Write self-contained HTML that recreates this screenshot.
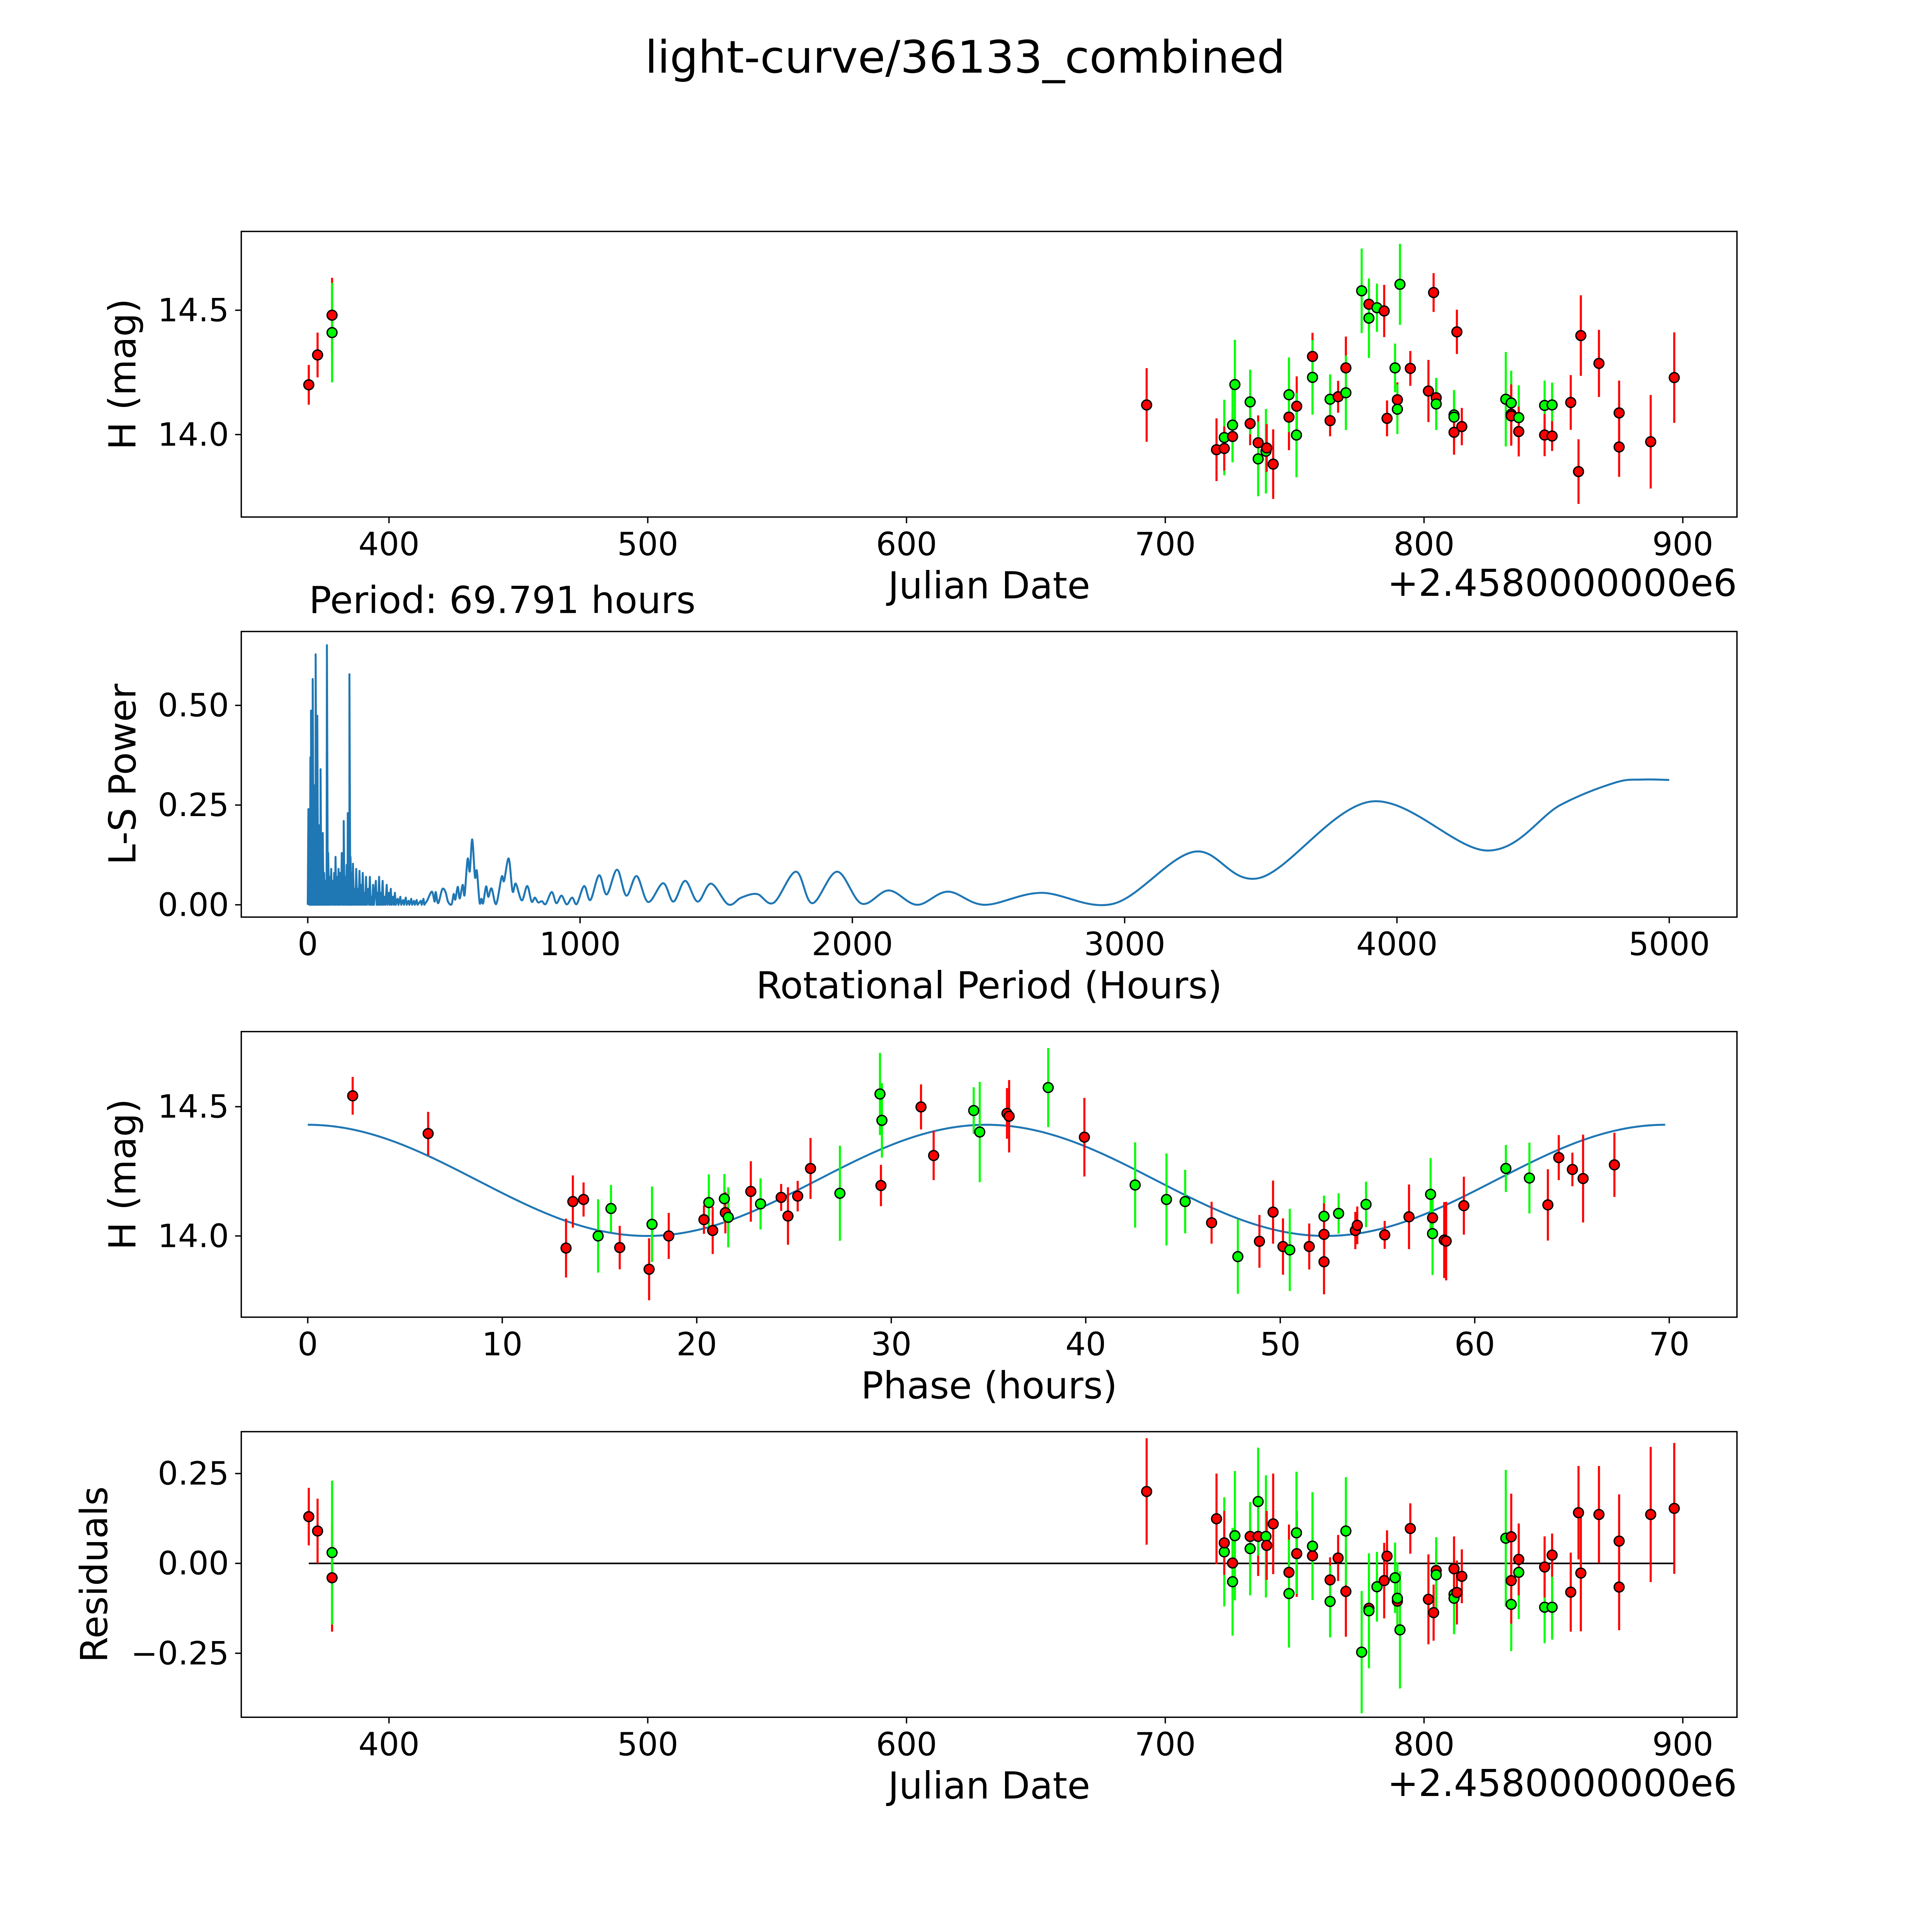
<!DOCTYPE html>
<html><head><meta charset="utf-8"><title>light-curve/36133_combined</title>
<style>html,body{margin:0;padding:0;background:#fff;overflow:hidden}svg{display:block}text{font-family:"DejaVu Sans","Liberation Sans",sans-serif;fill:#000}</style>
</head><body>
<svg id="fig" xmlns="http://www.w3.org/2000/svg" width="5400" height="5400" viewBox="0 0 1695 1695">
<rect x="0" y="0" width="1695" height="1695" fill="#fff"/>
<text x="784" y="59" font-size="36.3" text-anchor="middle">light-curve/36133_combined</text>
</svg>
<script>
// ---- light curve data (Julian date offset, H mag) ----
const lcJd = [369,372.4,378,378,692.8,719.8,722.8,722.8,726,726,726.9,732.8,732.8,735.9,735.9,738.9,739.2,741.7,747.8,747.8,750.8,750.7,756.9,756.9,763.7,763.7,766.8,769.8,769.8,775.9,778.7,778.7,781.8,784.6,785.7,788.8,789.7,789.7,790.7,794.7,801.7,803.7,804.7,804.7,811.6,811.6,811.6,812.7,814.6,831.6,833.7,833.7,833.7,836.6,836.6,846.6,846.6,849.5,849.5,856.7,859.7,860.6,867.6,875.4,875.4,887.6,896.7];
const lcMag = [14.2,14.32,14.48,14.41,14.119,13.939,13.988,13.944,13.992,14.038,14.201,14.044,14.131,13.967,13.902,13.933,13.946,13.881,14.07,14.16,14.114,13.998,14.314,14.23,14.056,14.142,14.152,14.268,14.168,14.578,14.524,14.468,14.51,14.497,14.065,14.268,14.14,14.102,14.604,14.266,14.175,14.571,14.148,14.123,14.079,14.07,14.009,14.413,14.032,14.142,14.127,14.082,14.075,14.068,14.012,14.117,13.998,14.119,13.994,14.129,13.851,14.398,14.286,14.087,13.95,13.971,14.229];
const lcErr = [0.08,0.09,0.15,0.2,0.148,0.126,0.152,0.089,0.096,0.15,0.18,0.087,0.13,0.11,0.15,0.17,0.096,0.14,0.133,0.15,0.12,0.17,0.095,0.15,0.063,0.1,0.064,0.126,0.15,0.17,0.095,0.16,0.097,0.105,0.072,0.098,0.07,0.1,0.163,0.07,0.125,0.078,0.06,0.105,0.1,0.1,0.09,0.089,0.075,0.19,0.13,0.12,0.12,0.13,0.1,0.1,0.085,0.09,0.06,0.11,0.13,0.162,0.135,0.13,0.12,0.188,0.182];
const lcColor = ("rrrgrrgrrg"+"grgrggrrrg"+"rgrgrgrrgg"+"rggrrgrggr"+"rrrgggrrrg"+"grrgrgrgrr"+"rrrrrrr").split("");
// ---- residuals (same observations) ----
const resVal = [0.13,0.09,-0.04,0.03,0.2,0.124,0.032,0.057,0.001,-0.051,0.077,0.075,0.041,0.075,0.172,0.075,0.05,0.11,-0.025,-0.084,0.027,0.085,0.021,0.048,-0.046,-0.106,0.015,-0.078,0.09,-0.247,-0.125,-0.132,-0.065,-0.048,0.02,-0.04,-0.105,-0.097,-0.185,0.097,-0.1,-0.137,-0.02,-0.032,-0.086,-0.097,-0.015,-0.081,-0.036,0.07,-0.114,0.074,-0.048,-0.025,0.011,-0.122,-0.01,-0.122,0.023,-0.08,0.141,-0.027,0.136,0.062,-0.066,0.136,0.153];
// ---- phased data ----
const phPhase = [2.31,6.19,13.28,13.63,14.18,14.93,15.59,16.04,17.55,17.7,18.56,20.37,20.62,20.82,21.42,21.47,21.62,22.78,23.28,24.34,24.69,25.19,25.85,27.36,29.42,29.52,29.47,31.53,32.18,34.24,34.55,35.95,36.06,38.07,39.93,42.54,44.15,45.11,46.47,47.82,48.93,49.63,50.14,50.49,51.49,52.25,52.25,52.25,53.0,53.86,53.96,54.41,55.37,56.62,57.73,57.83,57.83,58.43,58.53,59.44,61.6,62.81,63.76,64.32,65.02,65.57,67.18];
const phMag = [14.542,14.396,13.953,14.133,14.141,14.0,14.106,13.955,13.871,14.045,14.0,14.063,14.129,14.021,14.144,14.09,14.072,14.172,14.124,14.149,14.077,14.154,14.261,14.165,14.549,14.447,14.195,14.499,14.311,14.485,14.402,14.474,14.463,14.574,14.382,14.197,14.141,14.133,14.051,13.92,13.979,14.092,13.959,13.946,13.959,14.076,14.006,13.9,14.087,14.021,14.041,14.122,14.004,14.074,14.161,14.07,14.009,13.984,13.98,14.117,14.261,14.224,14.12,14.303,14.257,14.222,14.275];
const phErr = [0.073,0.084,0.114,0.101,0.066,0.142,0.091,0.084,0.12,0.146,0.089,0.055,0.109,0.091,0.095,0.08,0.116,0.117,0.099,0.052,0.111,0.059,0.118,0.184,0.159,0.144,0.08,0.087,0.095,0.09,0.194,0.098,0.14,0.153,0.152,0.165,0.178,0.123,0.081,0.144,0.102,0.122,0.109,0.159,0.089,0.08,0.12,0.126,0.078,0.072,0.073,0.088,0.054,0.125,0.14,0.08,0.16,0.147,0.152,0.112,0.091,0.137,0.138,0.087,0.065,0.17,0.124];
const phColor = ("rrrrrggrrg"+"rrgrgrgrgr"+"rrrgggrrrg"+"grrgrgggrg"+"rrrgrgrrgr"+"rgrrgrgrrr"+"ggrrrrr").split("");
const periodHours = 69.791;
const modelMean = 14.215, modelAmp = 0.215;
// ---- periodogram ----
const spikePeriod = [2.4,5,9.7,12,15,18.2,22,26,29,32,35,40,44,47,52,55,60,66,70.4,75,80,86,92,97,102,108,113,119,125,129,132,138,143,147,150,153,157,162,166,172,178,184,190,196,202,208,214,222,228,234,240,250,256,262,268,275,282,290,298,305,313,320,330,340,350,360,370,380,390,400,415,425];
const spikePower = [0.24,0.2,0.37,0.487,0.3,0.566,0.25,0.3,0.628,0.2,0.474,0.2,0.15,0.34,0.1,0.18,0.08,0.06,0.651,0.13,0.07,0.09,0.06,0.08,0.12,0.07,0.09,0.08,0.13,0.08,0.21,0.07,0.1,0.23,0.15,0.578,0.12,0.08,0.103,0.04,0.09,0.04,0.085,0.05,0.08,0.03,0.07,0.04,0.07,0.02,0.05,0.06,0.03,0.07,0.03,0.06,0.02,0.05,0.03,0.04,0.02,0.03,0.015,0.02,0.012,0.018,0.01,0.015,0.01,0.012,0.01,0.015];
const smoothPeriod = [439,456,466,470,479,494,506,515,528,536,542,551,558,569,576,587,595,604,614,621,631,638,644,655,663,675,692,712,721,738,752,764,786,806,822,834,846,860,874,896,913,932,951,971,988,1015,1038,1070,1098,1136,1170,1208,1250,1305,1343,1386,1432,1481,1544,1592,1650,1711,1793,1853,1944,2034,2134,2238,2351,2486,2694,2961,3255,3499,3906,4331,4600,4800,4900,5000];
const smoothPower = [0.011,0.033,0.008,0.032,0.004,0.039,0.032,0.008,0.001,0.027,0.013,0.045,0.016,0.05,0.025,0.115,0.084,0.164,0.07,0.085,0.006,0.015,0.004,0.046,0.02,0.041,0.002,0.07,0.06,0.116,0.034,0.053,0.011,0.047,0.008,0.018,0.006,0.009,0.002,0.032,0.004,0.023,0.001,0.018,0.002,0.047,0.012,0.074,0.026,0.088,0.023,0.072,0.007,0.054,0.008,0.06,0.008,0.053,0.001,0.018,0.027,0.005,0.083,0.004,0.083,0.003,0.036,0.0,0.033,0.0,0.03,0.003,0.133,0.068,0.259,0.136,0.25,0.306,0.314,0.313];
// ---- tick labels ----
const jdTicks = [400,500,600,700,800,900];
const lsXTicks = [0,1000,2000,3000,4000,5000];
const lsYTicks = [0,0.25,0.5];
const lsYLabels = ["0.00","0.25","0.50"];
const phXTicks = [0,10,20,30,40,50,60,70];
const magTicks = [14.0,14.5];
const magLabels = ["14.0","14.5"];
const resTicks = [-0.25,0,0.25];
const resLabels = ["\u22120.25","0.00","0.25"];

const NS = "http://www.w3.org/2000/svg";
const svg = document.getElementById("fig");
function mk(tag, attrs, parent){const e=document.createElementNS(NS,tag);for(const k in attrs)e.setAttribute(k,attrs[k]);(parent||svg).appendChild(e);return e;}
function lin(d0,d1,p0,p1){return v=>p0+(v-d0)*(p1-p0)/(d1-d0);}
const COL = {r:"#ff0000", g:"#00ff00"};

function makePanel(name, top, xs, ys){
  const g = mk("g",{});
  
  
  return {g, top, bottom: top+232, left:196, right:1411, x:xs, y:ys};
}
function frame(p){
  const r = mk("rect",{x:p.left,y:p.top,width:p.right-p.left,height:p.bottom-p.top,fill:"none",stroke:"#000","stroke-width":1.1},p.g);
  
  
}
function xTicks(p, vals, labels){
  vals.forEach((v,i)=>{
    const X=p.x(v);
    const t=mk("line",{x1:X,x2:X,y1:p.bottom,y2:p.bottom+5,stroke:"#000","stroke-width":1.1},p.g);
    
    
    const l=mk("text",{x:X,y:p.bottom+31,"font-size":26,"text-anchor":"middle"},p.g);
    l.textContent = labels ? labels[i] : String(v);
    
    
  });
}
function yTicks(p, vals, labels){
  vals.forEach((v,i)=>{
    const Y=p.y(v);
    const t=mk("line",{x1:p.left-5,x2:p.left,y1:Y,y2:Y,stroke:"#000","stroke-width":1.1},p.g);
    
    
    const l=mk("text",{x:p.left-10,y:Y+9,"font-size":26,"text-anchor":"end"},p.g);
    l.textContent = labels[i];
    
    
  });
}
function label(p, txt, x, y, rot, name, anchor){
  const l=mk("text",{x:x,y:y,"font-size":30.2,"text-anchor":anchor||"middle"},p.g);
  if(rot) l.setAttribute("transform","rotate(-90 "+x+" "+y+")");
  l.textContent=txt;
  
  
}
function errPoints(p, xs, ys, es, cs, nameBar, namePt){
  const n=Math.min(xs.length,ys.length,es.length,cs.length);
  for(let i=0;i<n;i++){
    const X=p.x(xs[i]);
    const b=mk("line",{x1:X,x2:X,y1:p.y(ys[i]+es[i]),y2:p.y(ys[i]-es[i]),stroke:COL[cs[i]],"stroke-width":1.7},p.g);
    
    
  }
  for(let i=0;i<n;i++){
    const c=mk("circle",{cx:p.x(xs[i]),cy:p.y(ys[i]),r:4,fill:COL[cs[i]],stroke:"#000","stroke-width":1.1},p.g);
    
    
  }
}

// Panel 1: light curve
const jdX = lin(400,900,316,1367);
const p1 = makePanel("light-curve-panel",188, jdX, lin(14.0,14.5,353,252));
errPoints(p1, lcJd, lcMag, lcErr, lcColor, "mag-error-bar", "mag-point");
frame(p1); xTicks(p1, jdTicks); yTicks(p1, magTicks, magLabels);
label(p1,"Julian Date",803.5,486,false,"x-axis-title");
label(p1,"+2.4580000000e6",1411,484,false,"x-axis-offset","end");
label(p1,"H (mag)",110,304,true,"y-axis-title");

// Panel 2: periodogram
const p2 = makePanel("periodogram-panel",513, lin(0,5000,250,1356), lin(0,0.5,735,573));
(function(){
  let d="M"+p2.x(0)+","+p2.y(0);
  for(let i=0;i<spikePeriod.length;i++){
    d+=" L"+p2.x(spikePeriod[i])+","+p2.y(spikePower[i]);
    d+=" L"+(p2.x(spikePeriod[i])+0.7)+","+p2.y(0);
  }
  const P=smoothPeriod.map((v,i)=>[p2.x(v),p2.y(smoothPower[i])]);
  d+=" L"+P[0][0]+","+P[0][1];
  for(let i=0;i<P.length-1;i++){
    const p0=P[Math.max(0,i-1)],a=P[i],b=P[i+1],p3=P[Math.min(P.length-1,i+2)];
    const c1=[a[0]+(b[0]-p0[0])/6,a[1]+(b[1]-p0[1])/6];
    const c2=[b[0]-(p3[0]-a[0])/6,b[1]-(p3[1]-a[1])/6];
    d+=" C"+c1[0]+","+c1[1]+" "+c2[0]+","+c2[1]+" "+b[0]+","+b[1];
  }
  const path=mk("path",{d:d,fill:"none",stroke:"#1f77b4","stroke-width":1.6,"stroke-linejoin":"round"},p2.g);
  
  
})();
frame(p2); xTicks(p2, lsXTicks); yTicks(p2, lsYTicks, lsYLabels);
label(p2,"Rotational Period (Hours)",803.5,811,false,"x-axis-title");
label(p2,"L-S Power",110,629,true,"y-axis-title");
label(p2,"Period: "+periodHours.toFixed(3)+" hours",251,498,false,"period-annotation","start");

// Panel 3: phased
const p3 = makePanel("phase-panel",838, lin(0,70,250,1356), lin(14.0,14.5,1004,899));
(function(){
  let d="";
  for(let k=0;k<=400;k++){
    const ph=periodHours*k/400;
    const m=modelMean+modelAmp*Math.cos(4*Math.PI*ph/periodHours);
    d+=(k?" L":"M")+p3.x(ph)+","+p3.y(m);
  }
  const path=mk("path",{d:d,fill:"none",stroke:"#1f77b4","stroke-width":1.6},p3.g);
  
  
})();
errPoints(p3, phPhase, phMag, phErr, phColor, "phase-error-bar", "phase-point");
frame(p3); xTicks(p3, phXTicks); yTicks(p3, magTicks, magLabels);
label(p3,"Phase (hours)",803.5,1136,false,"x-axis-title");
label(p3,"H (mag)",110,954,true,"y-axis-title");

// Panel 4: residuals
const p4 = makePanel("residuals-panel",1163, jdX, lin(0,0.25,1270,1197));
(function(){
  const z=mk("line",{x1:p4.x(Math.min(...lcJd)),x2:p4.x(Math.max(...lcJd)),y1:p4.y(0),y2:p4.y(0),stroke:"#000","stroke-width":1.3},p4.g);
  
  
})();
errPoints(p4, lcJd, resVal, lcErr, lcColor, "residual-error-bar", "residual-point");
frame(p4); xTicks(p4, jdTicks); yTicks(p4, resTicks, resLabels);
label(p4,"Julian Date",803.5,1461,false,"x-axis-title");
label(p4,"+2.4580000000e6",1411,1459,false,"x-axis-offset","end");
label(p4,"Residuals",87,1279,true,"y-axis-title");
</script>
</body></html>
